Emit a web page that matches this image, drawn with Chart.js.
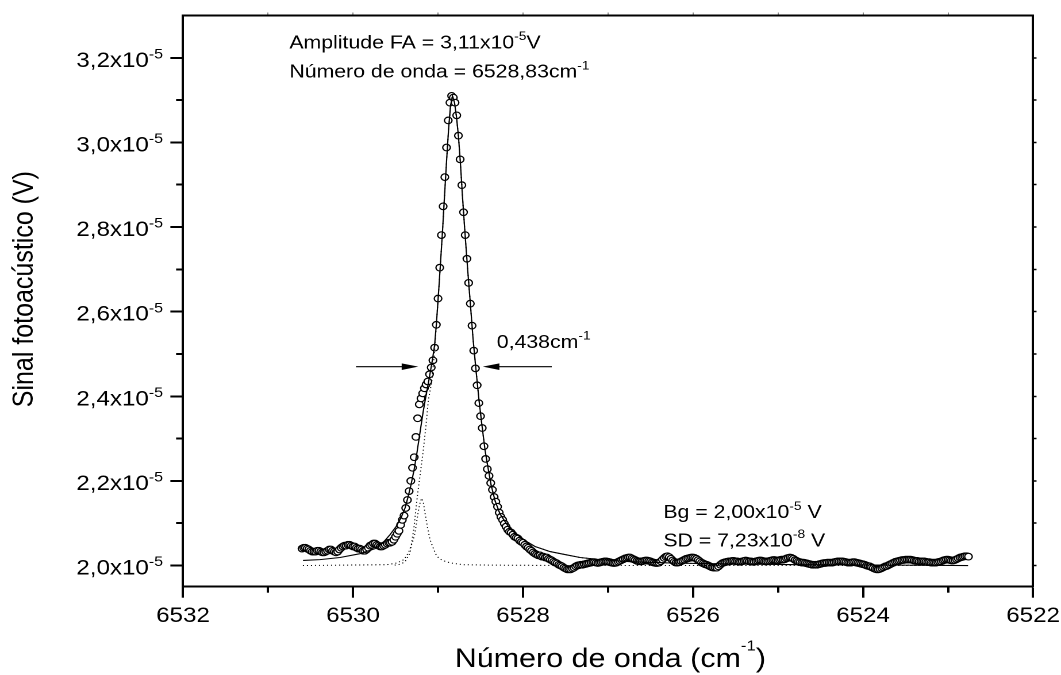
<!DOCTYPE html>
<html>
<head>
<meta charset="utf-8">
<script src="https://cdn.jsdelivr.net/npm/chart.js@4/dist/chart.umd.min.js"></script>
<style>
  html, body { margin: 0; padding: 0; background: #fff; overflow: hidden; }
  /* the figure is laid out on a 923px-wide canvas and widened to the page width */
  #wrap { position: absolute; left: 0; top: 0; width: 923px; height: 675px;
          transform: scaleX(1.149512); transform-origin: 0 0; }
</style>
</head>
<body>
<div id="wrap"><canvas id="c"></canvas></div>
<script>
// ---- scan grid (cm-1) ----
const scanStart = 6530.60;
const scanStep = 0.02;

// ---- measured photoacoustic signal, in units of 1e-5 V ----
const signal = [
  2.040, 2.042, 2.042, 2.040, 2.038, 2.035, 2.033, 2.033, 2.033, 2.035,
  2.035, 2.033, 2.031, 2.031, 2.033, 2.035, 2.038, 2.038, 2.035, 2.033,
  2.031, 2.033, 2.038, 2.042, 2.045, 2.047, 2.047, 2.049, 2.049, 2.047,
  2.045, 2.045, 2.042, 2.040, 2.040, 2.038, 2.035, 2.035, 2.038, 2.042,
  2.047, 2.049, 2.052, 2.052, 2.049, 2.047, 2.045, 2.045, 2.047, 2.049,
  2.052, 2.054, 2.054, 2.056, 2.061, 2.068, 2.075, 2.082, 2.096, 2.108,
  2.118, 2.136, 2.155, 2.176, 2.200, 2.231, 2.256, 2.304, 2.348, 2.381,
  2.395, 2.407, 2.419, 2.428, 2.435, 2.452, 2.468, 2.485, 2.515, 2.569,
  2.631, 2.704, 2.781, 2.849, 2.918, 2.988, 3.052, 3.094, 3.110, 3.106,
  3.094, 3.064, 3.016, 2.960, 2.899, 2.835, 2.781, 2.725, 2.668, 2.619,
  2.567, 2.508, 2.466, 2.426, 2.384, 2.353, 2.325, 2.282, 2.252, 2.228,
  2.212, 2.195, 2.179, 2.162, 2.151, 2.139, 2.125, 2.115, 2.108, 2.099,
  2.092, 2.085, 2.080, 2.078, 2.073, 2.068, 2.066, 2.064, 2.059, 2.056,
  2.054, 2.049, 2.045, 2.042, 2.038, 2.035, 2.031, 2.028, 2.026, 2.024,
  2.024, 2.021, 2.021, 2.019, 2.019, 2.016, 2.014, 2.012, 2.009, 2.007,
  2.005, 2.002, 2.000, 1.998, 1.995, 1.993, 1.991, 1.991, 1.991, 1.993,
  1.995, 1.998, 2.000, 2.001, 2.002, 2.002, 2.003, 2.004, 2.005, 2.006,
  2.007, 2.008, 2.008, 2.007, 2.006, 2.007, 2.008, 2.009, 2.010, 2.010,
  2.009, 2.008, 2.007, 2.006, 2.006, 2.007, 2.009, 2.011, 2.013, 2.015,
  2.017, 2.018, 2.019, 2.019, 2.017, 2.015, 2.013, 2.011, 2.010, 2.010,
  2.010, 2.011, 2.012, 2.012, 2.011, 2.010, 2.008, 2.007, 2.006, 2.006,
  2.007, 2.010, 2.014, 2.018, 2.021, 2.022, 2.020, 2.016, 2.012, 2.009,
  2.007, 2.007, 2.008, 2.010, 2.012, 2.014, 2.016, 2.017, 2.018, 2.019,
  2.019, 2.018, 2.016, 2.013, 2.010, 2.007, 2.005, 2.003, 2.002, 2.000,
  1.998, 1.996, 1.995, 1.995, 1.995, 1.998, 2.002, 2.005, 2.007, 2.008,
  2.009, 2.010, 2.010, 2.011, 2.011, 2.010, 2.010, 2.009, 2.009, 2.010,
  2.011, 2.012, 2.011, 2.010, 2.010, 2.009, 2.009, 2.010, 2.011, 2.012,
  2.012, 2.011, 2.010, 2.010, 2.010, 2.011, 2.012, 2.013, 2.013, 2.012,
  2.012, 2.013, 2.014, 2.014, 2.015, 2.017, 2.018, 2.019, 2.018, 2.016,
  2.013, 2.011, 2.009, 2.008, 2.007, 2.007, 2.006, 2.005, 2.004, 2.003,
  2.002, 2.002, 2.002, 2.002, 2.003, 2.004, 2.005, 2.006, 2.006, 2.007,
  2.007, 2.007, 2.007, 2.008, 2.009, 2.010, 2.010, 2.010, 2.010, 2.009,
  2.008, 2.007, 2.007, 2.007, 2.008, 2.008, 2.007, 2.006, 2.005, 2.004,
  2.003, 2.002, 2.000, 1.999, 1.998, 1.996, 1.994, 1.992, 1.991, 1.991,
  1.992, 1.994, 1.996, 1.998, 1.999, 2.001, 2.003, 2.005, 2.007, 2.009,
  2.010, 2.011, 2.012, 2.013, 2.013, 2.014, 2.014, 2.014, 2.014, 2.013,
  2.012, 2.011, 2.011, 2.010, 2.010, 2.010, 2.010, 2.009, 2.008, 2.008,
  2.007, 2.007, 2.007, 2.007, 2.008, 2.009, 2.010, 2.012, 2.013, 2.014,
  2.014, 2.013, 2.012, 2.012, 2.013, 2.015, 2.017, 2.019, 2.020, 2.021,
  2.022, 2.022, 2.021
];

// ---- total fitted profile (solid line) ----
const fitWn = [
  6530.588, 6530.388, 6530.153, 6529.918, 6529.741, 6529.647, 6529.565, 6529.494, 6529.435, 6529.388,
  6529.353, 6529.318, 6529.282, 6529.247, 6529.212, 6529.176, 6529.141, 6529.106, 6529.071, 6529.041,
  6529.018, 6528.994, 6528.971, 6528.947, 6528.924, 6528.900, 6528.876, 6528.853, 6528.830, 6528.806,
  6528.782, 6528.759, 6528.735, 6528.712, 6528.688, 6528.665, 6528.641, 6528.618, 6528.588, 6528.553,
  6528.518, 6528.482, 6528.447, 6528.412, 6528.376, 6528.329, 6528.271, 6528.212, 6528.153, 6528.071,
  6527.976, 6527.859, 6527.682, 6527.506, 6527.329, 6527.094, 6526.741, 6526.271, 6525.682, 6524.741,
  6523.565, 6522.765
];
const fitV = [
  2.012, 2.014, 2.019, 2.028, 2.040, 2.054, 2.073, 2.092, 2.113, 2.136,
  2.162, 2.191, 2.226, 2.268, 2.315, 2.362, 2.402, 2.440, 2.480, 2.520,
  2.574, 2.645, 2.715, 2.791, 2.873, 2.955, 3.031, 3.087, 3.110, 3.094,
  3.059, 3.012, 2.946, 2.871, 2.800, 2.736, 2.673, 2.614, 2.536, 2.461,
  2.391, 2.329, 2.273, 2.231, 2.191, 2.153, 2.122, 2.104, 2.087, 2.073,
  2.059, 2.045, 2.033, 2.026, 2.019, 2.014, 2.009, 2.006, 2.004, 2.002,
  2.001, 2.000
];

// ---- shoulder band component (dotted) ----
const bandWn = [
  6530.590, 6529.600, 6529.486, 6529.400, 6529.349, 6529.300, 6529.271, 6529.250, 6529.232, 6529.210,
  6529.192, 6529.172, 6529.153, 6529.124, 6529.094, 6529.050, 6529.015, 6528.950, 6528.850, 6528.702,
  6528.400, 6527.330, 6522.760
];
const bandV = [
  2.000, 2.002, 2.006, 2.014, 2.030, 2.055, 2.077, 2.105, 2.128, 2.150,
  2.159, 2.148, 2.124, 2.090, 2.061, 2.038, 2.022, 2.012, 2.006, 2.002,
  2.001, 2.000, 2.000
];

// ---- main band component (dotted): rising edge, then it runs on the total profile ----
const mainRiseWn = [6529.510, 6529.447, 6529.388, 6529.329, 6529.286, 6529.244, 6529.208, 6529.173, 6529.141, 6529.114, 6529.074, 6529.041];
const mainRiseV  = [2.001, 2.003, 2.009, 2.030, 2.085, 2.163, 2.219, 2.273, 2.332, 2.391, 2.434, 2.505];
const mainJoinIndex = 20; // first point of fitWn shared with the main component

// ---- text annotations (position in cm-1 and 1e-5 V) ----
const notes = [
  { wn: 6530.749, v: 3.222, parts: [['Amplitude FA = 3,11x10'], ['-5', true], ['V']] },
  { wn: 6530.749, v: 3.153, parts: [['Número de onda = 6528,83cm'], ['-1', true]] },
  { wn: 6528.309, v: 2.514, parts: [['0,438cm'], ['-1', true]] },
  { wn: 6526.349, v: 2.112, parts: [['Bg = 2,00x10'], ['-5', true], [' V']] },
  { wn: 6526.349, v: 2.045, parts: [['SD = 7,23x10'], ['-8', true], [' V']] }
];
// width arrows (from, to in cm-1; height in 1e-5 V)
const widthArrows = [
  { from: 6529.965, to: 6529.232, v: 2.470 },
  { from: 6527.662, to: 6528.474, v: 2.470 }
];

const yTickExponent = '-5';
const xTitleParts = [['Número de onda (cm'], ['-1', true], [')']];
const yTitle = 'Sinal fotoacústico (V)';

const VOLT = 1e-5;
const FONT = "'Liberation Sans', Arial, Helvetica, sans-serif";

const wavenumbers = signal.map((_, i) => +(scanStart - i * scanStep).toFixed(2));
const toPoints = (xs, vs) => xs.map((x, i) => ({ x: x, y: vs[i] * VOLT }));

const signalPts = toPoints(wavenumbers, signal);
const fitPts = toPoints(fitWn, fitV);
const bandPts = toPoints(bandWn, bandV);
const mainPts = toPoints(mainRiseWn.concat(fitWn.slice(mainJoinIndex)),
                         mainRiseV.concat(fitV.slice(mainJoinIndex)));

// text with superscript runs
function drawRich(ctx, parts, x, y, o) {
  const supSize = o.size * (o.sup || 0.65);
  const raise = o.size * (o.raise || 0.42);
  const widths = parts.map(([t, s]) => {
    ctx.font = (s ? supSize : o.size) + 'px ' + FONT;
    return ctx.measureText(t).width;
  });
  const total = widths.reduce((a, b) => a + b, 0);
  let cx = o.align === 'right' ? x - total : o.align === 'center' ? x - total / 2 : x;
  ctx.textAlign = 'left';
  ctx.textBaseline = o.baseline || 'alphabetic';
  ctx.fillStyle = '#000';
  parts.forEach(([t, s], i) => {
    ctx.font = (s ? supSize : o.size) + 'px ' + FONT;
    ctx.fillText(t, cx, s ? y - raise : y);
    cx += widths[i];
  });
}

const decorations = {
  id: 'decorations',
  afterDraw(chart) {
    const ctx = chart.ctx;
    const xs = chart.scales.x, ys = chart.scales.y;
    const area = chart.chartArea;
    ctx.save();

    // y tick labels: mantissa x10 with exponent
    ys.ticks.forEach(t => {
      const py = ys.getPixelForValue(t.value);
      const mant = (t.value / VOLT).toFixed(1).replace('.', ',') + 'x10';
      drawRich(ctx, [[mant], [yTickExponent, true]], ys.right - 17.4, py + 9,
               { size: 21, sup: 0.66, raise: 0.4, align: 'right' });
    });

    // axis titles
    drawRich(ctx, xTitleParts, (area.left + area.right) / 2 + 2, area.bottom + 80.3,
             { size: 26.5, sup: 0.55, raise: 0.62, align: 'center' });
    ctx.save();
    ctx.translate(21.5, (area.top + area.bottom) / 2 - 12);
    ctx.rotate(-Math.PI / 2);
    drawRich(ctx, [[yTitle]], 0, 0, { size: 25, align: 'center', baseline: 'middle' });
    ctx.restore();

    // annotations
    notes.forEach(n => {
      drawRich(ctx, n.parts, xs.getPixelForValue(n.wn), ys.getPixelForValue(n.v * VOLT),
               { size: 18.5, sup: 0.65, raise: 0.45 });
    });

    // width arrows
    ctx.strokeStyle = '#000';
    ctx.fillStyle = '#000';
    ctx.lineWidth = 1.2;
    const headLen = 14.5, headHalf = 3.3;
    widthArrows.forEach(a => {
      const x0 = xs.getPixelForValue(a.from), x1 = xs.getPixelForValue(a.to);
      const y = ys.getPixelForValue(a.v * VOLT);
      const dir = Math.sign(x1 - x0);
      ctx.beginPath();
      ctx.moveTo(x0, y);
      ctx.lineTo(x1 - dir * headLen * 0.6, y);
      ctx.stroke();
      ctx.beginPath();
      ctx.moveTo(x1, y);
      ctx.lineTo(x1 - dir * headLen, y - headHalf);
      ctx.lineTo(x1 - dir * headLen, y + headHalf);
      ctx.closePath();
      ctx.fill();
    });
    ctx.restore();
  }
};

// drop ticks that fall on the frame ends
function trimEnds(s) {
  const eps = (s.max - s.min) * 1e-6;
  s.ticks = s.ticks.filter(t => t.value > s.min + eps && t.value < s.max - eps);
}
const noPad = s => { s.paddingLeft = 0; s.paddingRight = 0; s.paddingTop = 0; s.paddingBottom = 0; };

Chart.defaults.font.family = FONT;
Chart.defaults.color = '#000';

const X_MIN = 6522, X_MAX = 6532;
const Y_MIN = 1.95e-5, Y_MAX = 3.3e-5;

new Chart(document.getElementById('c'), {
  type: 'scatter',
  data: {
    datasets: [
      { label: 'Ajuste', data: fitPts, showLine: true, borderColor: '#000', borderWidth: 1.1,
        pointRadius: 0, fill: false, tension: 0, xAxisID: 'x', yAxisID: 'y' },
      { label: 'Banda lateral', data: bandPts, showLine: true, borderColor: '#000', borderWidth: 1,
        borderDash: [1, 2.5], pointRadius: 0, fill: false, tension: 0, xAxisID: 'x', yAxisID: 'y' },
      { label: 'Banda principal', data: mainPts, showLine: true, borderColor: '#000', borderWidth: 1,
        borderDash: [1, 2.5], pointRadius: 0, fill: false, tension: 0, xAxisID: 'x', yAxisID: 'y' },
      { label: 'Sinal', data: signalPts, showLine: false, pointStyle: 'circle', pointRadius: 3.3,
        pointBorderWidth: 1.15, pointBorderColor: '#000', pointBackgroundColor: '#fff',
        xAxisID: 'x', yAxisID: 'y' }
    ]
  },
  options: {
    responsive: true,
    maintainAspectRatio: false,
    devicePixelRatio: 2,
    animation: false,
    events: [],
    layout: { padding: { left: 0, right: 24.3, top: 15.5, bottom: 0 } },
    plugins: { legend: { display: false }, tooltip: { enabled: false }, title: { display: false } },
    scales: {
      x: {
        type: 'linear', position: 'bottom', reverse: true, min: X_MIN, max: X_MAX, weight: 1,
        ticks: { stepSize: 2, autoSkip: false, maxRotation: 0, padding: 6, font: { size: 21 }, color: '#000',
                 callback: v => String(v) },
        grid: { drawOnChartArea: false, drawTicks: true, tickLength: 11, tickWidth: 2, tickColor: '#000' },
        border: { display: true, width: 2, color: '#000' },
        afterFit(s) { s.height = 88.3; noPad(s); }
      },
      xMinor: {
        type: 'linear', position: 'bottom', reverse: true, min: X_MIN, max: X_MAX, weight: 0,
        ticks: { display: false, stepSize: 1 },
        grid: { drawOnChartArea: false, drawTicks: true, tickLength: 6, tickWidth: 2, tickColor: '#000' },
        border: { display: false },
        afterBuildTicks: trimEnds,
        afterFit(s) { s.height = 0; noPad(s); }
      },
      xTop: {
        type: 'linear', position: 'top', reverse: true, min: X_MIN, max: X_MAX,
        ticks: { display: false, stepSize: 1 },
        grid: { drawOnChartArea: false, drawTicks: true, tickLength: 3, tickWidth: 1, tickColor: '#888' },
        border: { display: true, width: 2, color: '#000' },
        afterBuildTicks: trimEnds,
        afterFit(s) { s.height = 0; noPad(s); }
      },
      y: {
        type: 'linear', position: 'left', min: Y_MIN, max: Y_MAX, weight: 1,
        ticks: { display: false, stepSize: 2e-6, includeBounds: false },
        grid: { drawOnChartArea: false, drawTicks: true, tickLength: 11, tickWidth: 2, tickColor: '#000' },
        border: { display: true, width: 2, color: '#000' },
        afterBuildTicks: trimEnds,
        afterFit(s) { s.width = 159.2; noPad(s); }
      },
      yMinor: {
        type: 'linear', position: 'left', min: Y_MIN, max: Y_MAX, weight: 0,
        ticks: { display: false, stepSize: 1e-6, includeBounds: false },
        grid: { drawOnChartArea: false, drawTicks: true, tickLength: 6, tickWidth: 2, tickColor: '#000' },
        border: { display: false },
        afterBuildTicks: trimEnds,
        afterFit(s) { s.width = 0; noPad(s); }
      },
      yRight: {
        type: 'linear', position: 'right', min: Y_MIN, max: Y_MAX,
        ticks: { display: false, stepSize: 1e-6, includeBounds: false },
        grid: { drawOnChartArea: false, drawTicks: true, tickLength: 3, tickWidth: 1.5, tickColor: '#000' },
        border: { display: true, width: 2, color: '#000' },
        afterBuildTicks: trimEnds,
        afterFit(s) { s.width = 0; noPad(s); }
      }
    }
  },
  plugins: [decorations]
});
</script>
</body>
</html>
